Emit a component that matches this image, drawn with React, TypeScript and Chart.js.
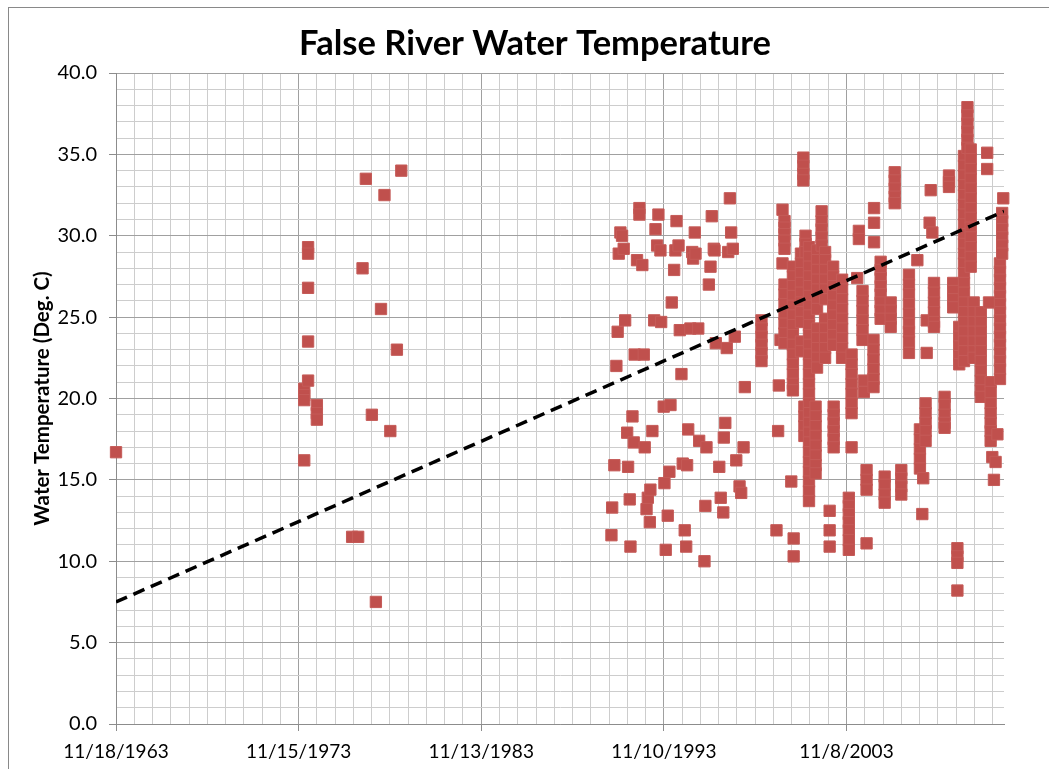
import React, { useEffect, useRef } from 'react';
import { Chart, registerables } from 'chart.js';

Chart.register(...registerables);

const CHART_TITLE = 'False River Water Temperature';
const Y_TITLE = 'Water Temperature (Deg. C)';

// x axis: Excel date serials (11/18/1963 = 23333)
const X_MIN = 23333;
const X_MAX = 41081;
const X_MAJOR_STEP = 3650;
const X_MINOR_STEP = 365;
const Y_MIN = 0;
const Y_MAX = 40;
const Y_MAJOR_STEP = 5;
const Y_MINOR_STEP = 1;

// Linear trendline end points (serial date, deg C)
const trendX = [23333, 41081];
const trendY = [7.5, 31.5];

// Observations: [decimal year of sampling, [temperatures in deg C]]
type Obs = [number, number[]];

const obs1963: Obs[] = [[1963.88, [16.7]]];

const obs1970s: Obs[] = [
  [1974.18, [20.6, 20.2, 19.9, 16.2]],
  [1974.39, [29.3, 28.9, 26.8, 23.5, 21.1]],
  [1974.87, [19.6, 19.1, 18.7]],
  [1976.8, [11.5]],
  [1977.13, [11.5]],
  [1977.37, [28.0]],
  [1977.55, [33.5]],
  [1977.88, [19.0]],
  [1978.1, [7.5]],
  [1978.38, [25.5]],
  [1978.57, [32.5]],
  [1978.89, [18.0]],
  [1979.25, [23.0]],
  [1979.49, [34.0]],
];

const obs1990s: Obs[] = [
  [1990.99, [11.6]],
  [1991.03, [13.3]],
  [1991.15, [15.9]],
  [1991.26, [22.0]],
  [1991.33, [24.1]],
  [1991.39, [28.9]],
  [1991.48, [30.2]],
  [1991.57, [30.0]],
  [1991.66, [29.2]],
  [1991.74, [24.8]],
  [1991.85, [17.9]],
  [1991.9, [15.8]],
  [1991.99, [13.8]],
  [1992.03, [10.9]],
  [1992.14, [18.9]],
  [1992.21, [17.3]],
  [1992.26, [22.7]],
  [1992.39, [28.5]],
  [1992.52, [31.7, 31.3]],
  [1992.68, [28.2]],
  [1992.76, [22.7]],
  [1992.81, [17.0]],
  [1992.91, [13.2]],
  [1992.98, [13.9]],
  [1993.09, [12.4]],
  [1993.12, [14.4]],
  [1993.23, [18.0]],
  [1993.33, [24.8]],
  [1993.4, [30.4]],
  [1993.49, [29.4]],
  [1993.56, [31.3]],
  [1993.67, [29.1]],
  [1993.71, [24.7]],
  [1993.85, [19.5]],
  [1993.89, [14.8]],
  [1993.96, [10.7]],
  [1994.07, [12.8]],
  [1994.16, [15.5]],
  [1994.22, [19.6]],
  [1994.29, [25.9]],
  [1994.42, [27.9]],
  [1994.49, [29.1]],
  [1994.55, [30.9]],
  [1994.66, [29.4]],
  [1994.73, [24.2]],
  [1994.82, [21.5]],
  [1994.89, [16.0]],
  [1995.0, [11.9]],
  [1995.08, [10.9]],
  [1995.13, [15.9]],
  [1995.19, [18.1]],
  [1995.31, [24.3]],
  [1995.41, [29.0]],
  [1995.46, [28.6]],
  [1995.55, [30.2]],
  [1995.59, [28.9]],
  [1995.74, [24.3]],
  [1995.79, [17.4]],
  [1996.08, [10.0]],
  [1996.13, [13.4]],
  [1996.19, [17.0]],
  [1996.32, [27.0]],
  [1996.41, [28.1]],
  [1996.48, [31.2]],
  [1996.59, [29.2]],
  [1996.63, [29.1]],
  [1996.7, [23.4]],
  [1996.89, [15.8]],
  [1996.97, [13.9]],
  [1997.11, [13.0]],
  [1997.14, [17.6]],
  [1997.22, [18.5]],
  [1997.3, [23.1]],
  [1997.38, [29.0]],
  [1997.47, [32.3]],
  [1997.54, [30.2]],
  [1997.63, [29.2]],
  [1997.74, [23.8]],
  [1997.82, [16.2]],
  [1998.0, [14.6]],
  [1998.09, [14.2]],
  [1998.22, [17.0]],
  [1998.29, [20.7]],
  [1999.2, [24.8, 24.3, 23.8, 23.3, 22.8, 22.3]],
];

const obs2000s: Obs[] = [
  [2000.02, [11.9]],
  [2000.11, [18.0]],
  [2000.15, [20.8]],
  [2000.24, [23.6]],
  [2000.35, [31.6, 28.3]],
  [2000.46, [30.9, 30.5, 30.1, 29.7, 29.2, 27.0, 26.4, 25.8, 25.2, 24.6, 24.0, 23.4]],
  [2000.83, [14.9]],
  [2000.92, [28.1, 27.5, 26.9, 26.3, 25.7, 25.1, 24.5, 23.9, 23.3, 22.7, 22.1, 21.5, 20.9, 20.5]],
  [2000.96, [11.4, 10.3]],
  [2001.36, [28.9, 28.3, 27.7, 27.1, 26.5, 25.9, 25.3, 24.7, 23.5, 22.9]],
  [2001.49, [34.8, 34.3, 33.8, 33.4]],
  [2001.55, [19.5, 18.9, 18.3, 17.7]],
  [2001.61, [30.0, 29.5, 29.0]],
  [2001.8, [29.3, 28.7, 28.1, 27.5, 26.9, 26.3, 25.7, 25.1, 24.5, 23.9, 23.3, 22.7, 22.1, 21.5, 20.9, 20.3, 19.7, 19.1, 18.5, 17.9, 17.3, 16.7, 16.1, 15.5, 14.9, 14.3, 13.7]],
  [2002.16, [19.5, 18.9, 18.3, 17.7, 17.1, 16.5, 15.9, 15.4]],
  [2002.24, [29.1, 28.5, 27.9, 27.3, 26.7, 26.1, 25.5, 24.3, 23.7, 23.1, 22.5, 21.9]],
  [2002.49, [31.5, 30.9, 30.4, 29.9, 29.4]],
  [2002.68, [29.0, 28.5, 27.9, 27.3, 26.7, 26.1, 24.9, 24.3, 23.7, 23.1, 22.5]],
  [2002.93, [13.1, 11.9, 10.9]],
  [2003.12, [28.1, 27.5, 26.9, 26.3, 25.7, 25.1, 24.5, 23.9, 23.3]],
  [2003.15, [19.5, 19.0, 18.5, 18.0, 17.5, 17.0]],
  [2003.61, [27.3, 26.7, 26.1, 25.5, 24.9, 24.3, 23.7, 23.1, 22.5]],
  [2003.98, [13.9, 13.4, 12.9, 12.4, 11.9, 11.3, 10.7]],
  [2004.13, [22.7, 22.1, 21.5, 20.9, 20.3, 19.7, 19.1, 17.0]],
  [2004.44, [27.4]],
  [2004.53, [30.3, 29.8]],
  [2004.73, [26.6, 26.0, 25.4, 24.8, 24.2, 23.6]],
  [2004.8, [21.1, 20.4]],
  [2004.95, [15.6, 15.0, 14.4, 11.1]],
  [2005.33, [23.6, 23.0, 22.4, 21.8, 21.2, 20.7]],
  [2005.36, [31.7, 30.8, 29.6]],
];

const obs2005s: Obs[] = [
  [2005.72, [28.4, 27.9, 27.4, 26.9, 26.4, 25.9, 25.4, 24.9]],
  [2005.94, [15.2, 14.7, 14.1, 13.6]],
  [2006.27, [25.9, 25.4, 24.9, 24.4]],
  [2006.49, [33.9, 33.4, 32.9, 32.4, 32.0]],
  [2006.85, [15.6, 15.1, 14.6, 14.1]],
  [2007.27, [27.6, 27.0, 26.4, 25.8, 25.2, 24.6, 24.1, 23.5, 22.8]],
  [2007.73, [28.5]],
  [2007.87, [18.1, 17.5, 16.9, 16.3, 15.7]],
  [2008.0, [12.9]],
  [2008.05, [15.1]],
  [2008.18, [19.7, 19.1, 18.5, 18.0, 17.4]],
  [2008.24, [24.8, 22.8]],
  [2008.4, [30.8]],
  [2008.46, [32.8]],
  [2008.55, [30.2]],
  [2008.64, [27.1, 26.5, 25.9, 25.3, 24.7, 24.4]],
  [2009.22, [20.1, 19.6, 19.0, 18.5, 18.2]],
  [2009.46, [33.7, 33.3, 33.0]],
  [2009.69, [27.1, 26.6, 26.1, 25.6]],
  [2009.92, [10.8, 10.3, 9.9, 8.2]],
  [2010.02, [24.4, 23.8, 23.2, 22.6, 22.1]],
  [2010.28, [34.9, 34.3, 33.7, 33.1, 32.5, 31.9, 31.3, 30.7, 30.1, 29.5, 28.9, 28.3, 27.7, 27.1, 26.5, 25.9, 25.3, 24.7, 24.1, 23.5, 22.9, 22.3]],
  [2010.47, [37.9, 37.4, 36.9, 36.4, 35.9, 35.4]],
  [2010.65, [35.3, 34.7, 34.1, 33.5, 32.9, 32.3, 31.7, 31.1, 30.5, 29.9, 29.3, 28.7, 28.1]],
  [2010.81, [25.9, 25.3, 24.7, 24.1, 23.5, 22.9, 22.5]],
  [2011.2, [25.3, 24.7, 24.1, 23.5, 22.9, 22.3, 21.7, 21.1, 20.5, 20.1]],
  [2011.55, [35.1, 34.1]],
  [2011.65, [25.9]],
  [2011.74, [21.0, 20.4, 19.7, 19.1, 18.5, 18.0, 17.4]],
  [2011.83, [16.4]],
  [2011.92, [15.0]],
  [2012.01, [16.1]],
  [2012.11, [17.8]],
  [2012.25, [28.3, 27.8, 27.3, 26.8, 26.3, 25.8, 25.3, 24.8, 24.3, 23.8, 23.3, 22.8, 22.3, 21.8, 21.2]],
  [2012.37, [31.4, 30.9, 30.4, 29.9, 29.4, 28.9]],
  [2012.43, [32.3]],
];

const FONT = 'Lato, "Open Sans", sans-serif';
const MAJOR_GRID = '#a0a0a0';
const MINOR_GRID = '#cdcdcd';
const AXIS_COLOR = '#8c8c8c';

// decimal year -> Excel date serial
const toSerial = (year: number) => X_MIN + (year - 1963.879) * 365.25;

const serialToLabel = (serial: number) => {
  const d = new Date(Date.UTC(1899, 11, 30) + Math.round(serial) * 86400000);
  return `${d.getUTCMonth() + 1}/${d.getUTCDate()}/${d.getUTCFullYear()}`;
};

const isXMajor = (v: number) => Math.abs(((v - X_MIN) % X_MAJOR_STEP)) < 0.5;
const isYMajor = (v: number) => Math.abs(v % Y_MAJOR_STEP) < 1e-6;

export default function App() {
  const ref = useRef<HTMLCanvasElement>(null);

  useEffect(() => {
    const all = [...obs1963, ...obs1970s, ...obs1990s, ...obs2000s, ...obs2005s];
    const points = all.flatMap(([yr, temps]) => temps.map((t) => ({ x: toSerial(yr), y: t })));

    const xTicks: number[] = [];
    for (let v = X_MIN; v <= X_MAX; v += X_MINOR_STEP) xTicks.push(v);
    const yTicks: number[] = [];
    for (let v = Y_MIN; v <= Y_MAX; v += Y_MINOR_STEP) yTicks.push(v);

    const chart = new Chart(ref.current as HTMLCanvasElement, {
      type: 'scatter',
      data: {
        datasets: [
          {
            type: 'scatter',
            label: 'Water Temperature',
            data: points,
            pointStyle: 'rect',
            pointRadius: 8,
            pointHoverRadius: 8,
            backgroundColor: '#C0504D',
            borderColor: '#C55B58',
            borderWidth: 1,
            clip: false as any,
            order: 1,
          } as any,
          {
            type: 'line',
            label: 'Linear trend',
            data: trendX.map((x, i) => ({ x, y: trendY[i] })),
            borderColor: '#000000',
            borderWidth: 3.5,
            borderDash: [12, 7],
            pointRadius: 0,
            fill: false,
            tension: 0,
            order: 0,
          } as any,
        ],
      },
      options: {
        responsive: false,
        animation: false,
        devicePixelRatio: 1,
        events: [],
        font: { family: FONT },
        layout: { padding: 0 },
        plugins: {
          legend: { display: false },
          tooltip: { enabled: false },
          title: {
            display: true,
            text: CHART_TITLE,
            color: '#000000',
            font: { family: FONT, size: 34.5, weight: 'bold' },
            padding: { top: 15, bottom: 8.6 },
          },
        },
        scales: {
          x: {
            type: 'linear',
            position: 'bottom',
            min: X_MIN,
            max: X_MAX,
            afterBuildTicks: (s: any) => {
              s.ticks = xTicks.map((v) => ({ value: v }));
            },
            afterFit: (s: any) => {
              s.height = 45;
            },
            ticks: {
              autoSkip: false,
              maxRotation: 0,
              minRotation: 0,
              padding: 9,
              color: '#000000',
              font: { family: FONT, size: 19 },
              callback: (v: any) => (isXMajor(Number(v)) ? serialToLabel(Number(v)) : ''),
            },
            grid: {
              color: (ctx: any) => (ctx.tick && isXMajor(ctx.tick.value) ? MAJOR_GRID : MINOR_GRID),
              tickColor: (ctx: any) => (ctx.tick && isXMajor(ctx.tick.value) ? AXIS_COLOR : 'rgba(0,0,0,0)'),
              tickLength: 7,
              lineWidth: 1,
            },
            border: { color: AXIS_COLOR, width: 1 },
          },
          y: {
            type: 'linear',
            position: 'left',
            min: Y_MIN,
            max: Y_MAX,
            afterBuildTicks: (s: any) => {
              s.ticks = yTicks.map((v) => ({ value: v }));
            },
            afterFit: (s: any) => {
              s.width = 107;
            },
            ticks: {
              autoSkip: false,
              padding: 12,
              color: '#000000',
              font: { family: FONT, size: 20 },
              callback: (v: any) => (isYMajor(Number(v)) ? Number(v).toFixed(1) : ''),
            },
            grid: {
              color: (ctx: any) => (ctx.tick && isYMajor(ctx.tick.value) ? MAJOR_GRID : MINOR_GRID),
              tickColor: (ctx: any) => (ctx.tick && isYMajor(ctx.tick.value) ? AXIS_COLOR : 'rgba(0,0,0,0)'),
              tickLength: 7,
              lineWidth: 1,
            },
            border: { color: AXIS_COLOR, width: 1 },
            title: {
              display: true,
              text: Y_TITLE,
              color: '#000000',
              font: { family: FONT, size: 20.5, weight: 'bold' },
              padding: { top: 21, bottom: 0 },
            },
          },
          yRight: {
            type: 'linear',
            position: 'right',
            display: true,
            afterFit: (s: any) => {
              s.width = 57;
            },
            grid: { display: false, drawTicks: false },
            border: { display: false },
            ticks: { display: false },
          },
        },
      } as any,
    });

    return () => chart.destroy();
  }, []);

  return (
    <div
      style={{
        position: 'fixed',
        left: 0,
        top: 0,
        width: '100vw',
        height: '100vh',
        overflow: 'hidden',
        background: '#ffffff',
      }}
    >
      <div
        style={{
          position: 'absolute',
          left: 8,
          top: 7,
          borderLeft: '1px solid #898989',
          borderTop: '1px solid #898989',
        }}
      >
        <canvas ref={ref} width={1052} height={761} style={{ display: 'block', width: 1052, height: 761 }} />
      </div>
    </div>
  );
}
